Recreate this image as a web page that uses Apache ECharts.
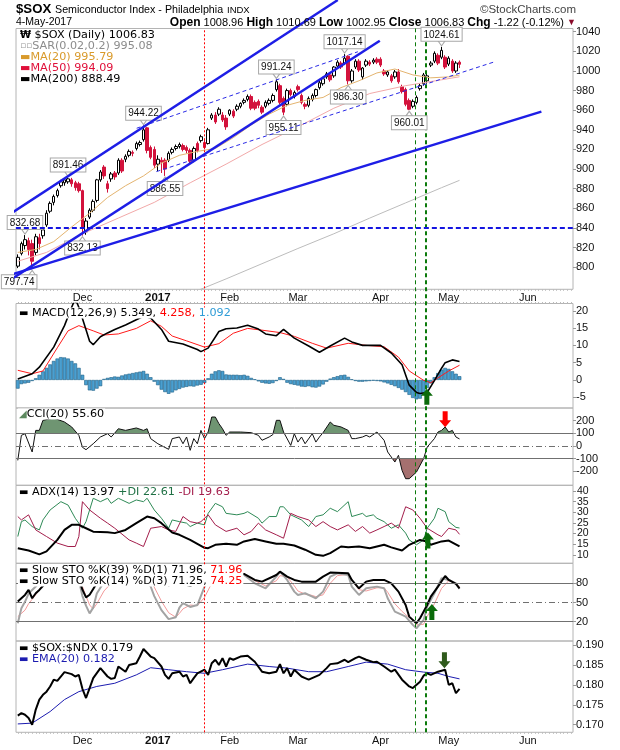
<!DOCTYPE html>
<html><head><meta charset="utf-8">
<script src="https://cdn.jsdelivr.net/npm/echarts@6/dist/echarts.min.js"></script>
<style>html,body{margin:0;padding:0;background:#fff}#c{width:620px;height:750px}</style>
</head><body><div id="c"></div>
<script>
// ---------- DATA (day index d: 0 = 1-Dec-2016, trading days) ----------
const FIRST_DAY = -18; // 4-Nov-2016
const monthStart = [0, 21, 41, 60, 83, 102, 124];
const monthLabels = ['Dec', '2017', 'Feb', 'Mar', 'Apr', 'May', 'Jun'];

const opens = [801,814,822,827,824,815,830,832,843,857,866,873,883,886,887,889,886,885,
 878,836,851,858,868,889,902,885,890,896,896,909,910,914,917,921,925,930,942,922,920,
 905,909,909,909,917,921,923,924,922,919,909,926,929,927,926,952,955,956,955,952,
 956,959,961,964,968,971,974,968,969,963,964,967,970,981,985,972,966,980,974,
 984,975,966,965,971,975,983,987,994,996,995,1005,1008,1008,1015,990,1004,1010,994,1006,1009,1009,1012,
 1012,1000,996,995,994,999,984,981,970,964,968,982,987,990,1006,1010,1016,1014,1014,
 1007,1010,1000,1008.96];
const highs = [813,826,832.68,830,828,834,834,841,858,867,874,880,889,890,891.46,891,888,887,
 879,850,860,869,890,899,904,888,897,898,911,911,915,920,919,928,929,944.22,943,924,923,
 914,912,911,918,922,925,927,926,924,921,923,928,935,931,942,957,958,963,958,955,
 961,961,966,968,972,976,976,970,971,965,970,972,977,991.24,987,974,982,982,980,
 986,977,968,974,977,982,990,994,999,998,1005,1011,1010,1017.14,1016,1002,1012,1012,1004,1012,1011,1013,1014,
 1014,1002,1001,997,1001,1002,986,983,972,971,975,987,998,997,1010,1020,1018,1024.61,1016,
 1015,1012,1010,1010.69];
const lows = [799,812,818,812,797.74,812,818,829,841,855,863,871,881,883,885,882,878,876,
 832.13,833,849,856,866,887,890,876,887,889,894,896,907,912,913,919,923,928,916,910,901,
 898,896,893,907,915,919,921,918,916,906,907,917,927,920,925,950,946,954,948,940,
 954,952,959,962,966,969,960,960,962,956,962,965,968,979,966,955.11,964,974,972,
 979,966,961,963,969,973,981,985,992,989,993,1003,1002,1006,986.30,988,1002,999,991,1004,1005,1007,1007,
 1004,995,994,988,992,987,977,964,960.01,962,966,980,985,987,1004,1008,1006,1012,1002,
 1005,998,998,1002.95];
const closes = [810,824,828,818,806,831,824,838,855,865,872,878,887,889,890,885,881,878,
 840,847,858,867,889,897,893,880,895,892,909,898,913,918,916,926,927,940,919,912,904,
 910,907,900,916,920,923,925,920,919,908,921,919,933,922,940,955,948,961,950,943,
 960,954,964,967,970,974,962,962,965,958,968,970,975,989,968,958,980,976,978,
 981,968,964,972,975,981,988,992,997,991,1004,1009,1004,1013,990,1000,1010,1001,1003,1010,1007,1011,1009,
 1006,997,999,990,999,989,979,966,961,969,973,985,996,995,1008,1018,1008,1021,1004,
 1013,1000,1008.05,1006.83];

const ma20 = [[-18,815],[-13,818],[-8,826],[-3,841],[2,855],[7,871],[12,883],[17,893],[22,906],[27,914],[32,918],[37,921],[42,932],[47,945],[52,956],[57,965],[62,970],[67,973],[72,983],[77,990],[82,998],[87,1002],[92,996],[97,993],[102,994],[105,995.79]];
const ma50 = [[-18,806],[-10,815],[0,834],[10,850],[20,866],[30,886],[40,905],[50,925],[60,943],[70,962],[80,977],[90,985],[100,991],[105,994.09]];
const ma200 = [[30,773],[40,788],[50,803.5],[60,819],[70,834],[80,850],[90,865.5],[100,881],[105,888.49]];

// trend lines drawn on the price panel: [[d1,v1],[d2,v2]]
const solidTrends = [[[-23,847.2],[71.1,1072.3]], [[-23,780.2],[82.8,1030.8]], [[-23,788.8],[127.8,958.5]]];
const dashedTrends = [[[15.1,941.6],[76.7,1019.6]], [[20.6,897.4],[114.8,1009.4]]];
const supportLevel = 840;

// annotated highs/lows: [d, value, text, 'top'|'bottom']
const priceNotes = [[-16,832.68,'832.68','top'],[-14,797.74,'797.74','bottom'],[-4,891.46,'891.46','top'],[0,832.13,'832.13','bottom'],
 [17,944.22,'944.22','top'],[23,893,'886.55','bottom'],[54,991.24,'991.24','top'],[56,955.11,'955.11','bottom'],
 [73,1017.14,'1017.14','top'],[74,986.30,'986.30','bottom'],[91,960.01,'960.01','bottom'],[100,1024.61,'1024.61','top']];

const macdLine = [[-18,0.3],[-14,1.8],[-12,3.7],[-8,9.5],[-5,15.7],[-3,21],[-2,23.5],[-1,21],[1,14.5],[2,11.2],[3,10.2],[5,12.5],[7,13.6],[9,14.6],[12,15.9],[15,17.4],[17,18.4],[19,17.9],[22,14.6],[24,11.2],[28,10.4],[32,8.8],[33,8.2],[35,9.2],[38,14.0],[40,14.8],[43,15.0],[46,15.8],[49,14.7],[51,13.3],[54,12.8],[56,14.6],[59,12.1],[63,9.8],[66,8.0],[69,9.8],[73,12.1],[75,11.0],[78,10.0],[83,10.0],[86,7.8],[89,4.4],[91,-1.5],[93,-3.6],[94,-3.9],[96,-3.6],[98,-0.2],[100,3.4],[101,5.0],[103,5.8],[105,5.349]];
const signalLine = [[-18,2.8],[-14,1.8],[-11,2.6],[-7,9.3],[-4,14.2],[-1,15.7],[3,14.2],[6,13.0],[10,13.3],[15,14.9],[19,17.1],[22,15.5],[25,12.7],[29,11.3],[34,9.5],[38,10.5],[42,13.5],[46,14.9],[50,14.4],[55,13.7],[59,12.6],[64,10.6],[68,9.2],[74,10.6],[79,10.0],[84,9.6],[88,6.6],[91,2.6],[95,-0.1],[97,-0.8],[99,0.6],[102,2.6],[105,4.258]];
const macdHist = [-2.5,-1.2,-1.0,-0.8,-0.3,0.5,1.5,2.5,3.5,4.5,5.5,6.2,6.6,6.5,6.2,5.5,4.8,3.5,
 1.5,-1.5,-3.0,-3.1,-2.5,-1.8,0.3,0.6,0.8,1.0,0.9,1.3,1.6,1.8,2.0,2.2,2.4,2.6,1.8,0.8,-0.5,
 -1.5,-2.8,-3.5,-4.0,-3.6,-3.0,-2.6,-2.2,-2.0,-1.8,-1.9,-1.6,-1.4,-0.9,0.5,1.8,2.5,2.8,2.6,1.6,
 1.5,1.5,1.5,1.4,1.5,1.2,0.6,0.2,-0.4,-0.8,-1.0,-1.1,-0.9,-0.3,0.8,0.3,-0.8,-1.2,-1.4,
 -1.6,-1.9,-2.0,-1.8,-2.1,-2.2,-1.9,-1.3,-0.5,0.4,0.8,1.1,1.4,1.5,0.9,0.2,-0.3,-0.5,-0.5,-0.4,-0.3,-0.2,-0.3,
 -0.4,-0.7,-1.0,-1.4,-1.8,-2.3,-2.8,-3.5,-4.3,-5.2,-5.6,-5.4,-3.8,-2.3,-1.0,0.8,2.0,3.0,3.5,
 3.2,2.5,1.8,1.092];

const cci = [[-18,-113],[-17,84],[-16,97],[-14,-47],[-13,123],[-12,123],[-11,202],[-8,220],[-5,189],[-3,150],[-1,84],[0,-10],[1,-29],[3,18],[5,71],[7,97],[8,71],[9,102],[10,136],[12,123],[15,142],[17,123],[18,136],[19,58],[21,18],[24,-26],[25,58],[27,71],[28,18],[29,71],[30,-34],[31,58],[32,18],[33,123],[34,58],[35,110],[36,228],[37,228],[38,176],[39,136],[40,84],[41,110],[44,110],[47,105],[49,84],[50,45],[52,71],[53,89],[54,202],[55,202],[56,110],[58,5],[59,97],[60,31],[61,71],[62,18],[64,97],[65,31],[66,71],[67,105],[69,189],[70,163],[72,150],[74,123],[75,58],[76,58],[78,71],[79,84],[80,71],[82,110],[84,45],[85,-47],[87,-126],[88,-73],[89,-192],[90,-257],[91,-257],[93,-205],[95,-100],[96,-8],[98,58],[99,110],[100,123],[101,150],[102,110],[103,123],[104,71],[105,55.6]];

const adx = [[-18,13.1],[-15,12.0],[-12,10.2],[-10,11.6],[-7,17.0],[-5,21.7],[-3,24.1],[-1,24.1],[1,22.5],[3,20.9],[7,20.6],[9,20.2],[12,21.7],[15,24.9],[18,28.0],[20,27.2],[22,24.9],[25,20.5],[27,19.4],[30,17.0],[34,13.3],[35,13.1],[37,14.7],[40,15.2],[43,14.7],[45,16.3],[48,17.4],[51,16.3],[54,15.2],[56,15.2],[59,14.4],[62,12.4],[65,10.0],[67,9.5],[69,10.8],[72,13.9],[74,13.5],[77,13.9],[80,13.1],[84,14.7],[86,13.5],[89,12.0],[91,14.7],[94,17.0],[96,16.3],[97,14.7],[100,16.3],[102,16.7],[105,13.97]];
const plusDI = [[-18,18.6],[-17,25.6],[-16,26.4],[-14,23.3],[-12,21.7],[-11,26.4],[-9,31.1],[-6,35.0],[-4,33.4],[-2,27.2],[0,22.5],[1,25.6],[3,36.6],[5,35.0],[7,36.6],[8,34.2],[10,36.6],[13,34.2],[15,35.8],[17,35.0],[18,36.6],[20,31.1],[22,27.2],[24,22.5],[25,26.4],[27,25.6],[29,24.9],[30,23.3],[32,24.9],[34,24.1],[35,29.5],[37,34.2],[39,32.6],[40,29.5],[43,28.8],[45,29.5],[46,30.3],[49,27.2],[50,24.9],[52,28.0],[54,28.0],[55,32.6],[56,32.6],[58,28.8],[60,27.2],[61,26.4],[63,23.3],[65,28.0],[67,28.8],[69,31.9],[71,30.3],[74,35.0],[75,28.0],[78,29.5],[79,28.0],[81,28.8],[82,27.2],[84,25.6],[86,22.5],[88,24.1],[90,20.2],[91,17.0],[93,14.7],[95,17.0],[96,22.5],[98,27.2],[99,31.9],[101,30.3],[102,25.6],[104,22.9],[105,22.61]];
const minusDI = [[-18,28.0],[-17,26.4],[-15,28.8],[-13,21.7],[-10,18.6],[-7,15.5],[-4,13.9],[-2,13.9],[-1,18.6],[0,35.0],[2,31.1],[5,27.2],[7,24.9],[9,22.5],[13,17.0],[15,15.5],[17,13.9],[19,22.5],[22,23.3],[24,21.7],[26,21.0],[28,28.0],[30,25.6],[32,24.9],[33,25.6],[35,28.8],[37,24.1],[40,21.0],[43,22.5],[45,19.4],[47,21.0],[49,24.9],[51,21.7],[54,19.4],[56,17.8],[58,29.5],[60,28.0],[63,26.4],[65,23.3],[67,25.6],[69,23.3],[71,21.7],[74,24.1],[76,21.0],[78,23.3],[80,20.2],[82,21.7],[84,23.3],[86,24.9],[88,22.5],[90,32.6],[92,31.1],[94,27.2],[96,22.5],[99,19.4],[100,18.6],[102,22.5],[104,21.7],[105,19.63]];

const stoK39 = [[-18,51.4],[-16,61.8],[-15,69.6],[-14,56.6],[-13,64.4],[-12,69.6],[-10,82],[-8,92],[-5,97],[-3,95],[-1,88],[0,70],[1,58],[2,62],[4,80],[6,88],[10,92],[14,96],[17,99],[18,93],[20,86],[22,81],[24,77],[27,80],[30,76],[33,83],[35,90.4],[37,93],[42,95.6],[45,94.6],[48,85.2],[50,82.6],[54,93],[55,98.2],[57,90.4],[59,85.2],[61,82.6],[65,82.6],[67,90.4],[69,96.7],[74,95.6],[75,85.2],[77,72.2],[79,82.6],[81,85.2],[84,85.2],[86,80],[88,67],[90,46.1],[91,27.9],[93,17.5],[94,25.3],[96,46.1],[97,59.2],[99,74.8],[101,91.5],[102,85.2],[104,79],[105,71.96]];
const stoK14 = [[-18,17.5],[-17,41],[-16,51],[-15,64],[-13,75],[-11,88],[-8,95],[-5,97],[-3,92],[-1,85],[0,60],[1,45],[2,33],[3,42],[4,64],[6,82],[9,90],[12,95],[15,97],[17,99],[18,86],[19,75],[20,60],[22,38],[24,24],[26,27],[27,42],[28,49],[30,43],[32,46],[34,74.8],[36,90.4],[38,93],[41,98.2],[45,93],[48,80],[51,72.2],[54,90.4],[55,98.2],[57,85.2],[59,67],[60,61.8],[62,64.4],[64,59.2],[65,56.6],[67,67],[69,90.4],[71,95.6],[74,93],[75,74.8],[77,61.8],[79,72.2],[82,74.8],[84,72.2],[85,56.6],[87,35.7],[89,30.5],[90,27.9],[92,15],[93,9.7],[95,22.7],[96,43.5],[98,64.4],[100,87.8],[102,85.2],[104,80],[105,71.25]];
const stoD3 = [[-18,27.9],[-16,38],[-15,48],[-13,62],[-11,78],[-8,92],[-5,96],[-3,94],[-1,88],[0,75],[1,60],[2,46],[3,40],[4,48],[6,68],[9,86],[12,93],[15,96],[17,98],[18,94],[19,86],[20,74],[22,52],[24,34],[26,27],[27,33],[28,40],[30,46],[32,45],[34,58],[36,80],[38,90],[41,96],[45,95],[48,84],[51,76],[54,84],[55,92],[57,90],[59,76],[60,68],[62,63],[64,61],[65,59],[67,62],[69,80],[71,92],[74,94],[75,85],[77,70],[79,68],[82,73],[84,73],[85,66],[87,48],[89,36],[90,31],[92,22],[93,15],[95,16],[96,28],[98,48],[100,72],[102,84],[104,80],[105,74.25]];

const ratio = [[-18,0.1723],[-17,0.1729],[-16,0.1725],[-15,0.1717],[-14,0.1700],[-13,0.1738],[-12,0.1763],[-11,0.1775],[-10,0.1783],[-9,0.1796],[-8,0.1813],[-7,0.1810],[-5,0.1832],[-3,0.1827],[-2,0.1821],[-1,0.1825],[0,0.1790],[1,0.1767],[2,0.1792],[3,0.1817],[5,0.1842],[7,0.1821],[8,0.1815],[9,0.1817],[10,0.1846],[12,0.1833],[13,0.1850],[15,0.1854],[16,0.1871],[17,0.1890],[19,0.1871],[20,0.1867],[22,0.1846],[23,0.1825],[24,0.1815],[25,0.1829],[27,0.1833],[28,0.1821],[29,0.1825],[30,0.1804],[31,0.1817],[32,0.1829],[34,0.1838],[35,0.1825],[36,0.1854],[37,0.1863],[38,0.1850],[39,0.1867],[40,0.1846],[41,0.1867],[42,0.1863],[44,0.1871],[46,0.1873],[48,0.1858],[50,0.1833],[52,0.1829],[54,0.1833],[55,0.1852],[56,0.1829],[57,0.1842],[58,0.1821],[59,0.1838],[61,0.1821],[62,0.1817],[63,0.1813],[66,0.1825],[68,0.1842],[69,0.1852],[71,0.1854],[73,0.1863],[74,0.1857],[76,0.1867],[77,0.1871],[79,0.1863],[81,0.1857],[82,0.1858],[84,0.1846],[86,0.1833],[87,0.1838],[89,0.1813],[91,0.1796],[92,0.1792],[94,0.1808],[95,0.1823],[96,0.1829],[97,0.1825],[99,0.1833],[101,0.1838],[102,0.1800],[103,0.1804],[104,0.1779],[105,0.1790]];
const ema20 = [[-18,0.1702],[-14,0.1704],[-9,0.1733],[-5,0.1763],[-1,0.1783],[4,0.1796],[9,0.1804],[15,0.1825],[19,0.1843],[24,0.1838],[29,0.1833],[34,0.1829],[39,0.1838],[46,0.1852],[52,0.1846],[57,0.1842],[63,0.1833],[68,0.1833],[74,0.1846],[79,0.1857],[85,0.1852],[90,0.1838],[95,0.1832],[99,0.1829],[102,0.1821],[105,0.1815]];

// event markers (day index)
const redEventDay = 34;
const greenEventDays = [92.8, 95.6];
// arrows: [panel, d, value, direction, colour]
const arrows = [[1,95.9,-4.85,'up','#0b6b0b'],[2,101,211,'down','#ff0000'],[3,96.2,16.7,'up','#0b6b0b'],[4,97.3,35.2,'up','#0b6b0b'],[5,100.8,0.1862,'down','#2f5a1c']];

// ---------- CHART ----------
const F = "'Liberation Sans',Arial,sans-serif";
const LF = "'DejaVu Sans',Verdana,sans-serif";
const X_MIN = -18.5, X_MAX = 136.6;
const L = 16, R = 47;
const panels = [
  {top:28.5, height:260.8, min:777.4, max:1043.3, ticks:[800,820,840,860,880,900,920,940,960,980,1000,1020,1040], fmt:v=>String(v), fs:11},
  {top:303.5, height:104.5, min:-8.1, max:22.1, ticks:[-5,0,5,10,15,20], fmt:v=>String(v), fs:11},
  {top:408, height:77.3, min:-309, max:299, ticks:[-200,-100,0,100,200], fmt:v=>String(v), fs:11},
  {top:485.3, height:78, min:6.0, max:42.7, ticks:[10,15,20,25,30,35,40], fmt:v=>String(v), fs:10.5, labelsByMarkLine:true},
  {top:563.3, height:77.7, min:-10.2, max:111.25, ticks:[20,50,80], fmt:v=>String(v), fs:11},
  {top:641, height:91.3, min:0.1681, max:0.1910, ticks:[0.170,0.175,0.180,0.185,0.190], fmt:v=>v.toFixed(3), fs:11}
];
const dayTicks = [];
for (let d = FIRST_DAY; d <= Math.floor(X_MAX); d++) dayTicks.push(d);

const grid = panels.map(p => ({left:L, right:R, top:p.top, height:p.height, show:true, borderColor:'#b4b4b4', borderWidth:1, outerBoundsMode:'none', containLabel:false}));
grid.push({left:L, right:R, top:28.5, height:703.8, show:false, outerBoundsMode:'none', containLabel:false});

const monthLabelCfg = {show:true, customValues:monthStart, showMinLabel:true, showMaxLabel:true, hideOverlap:false, fontFamily:F, fontSize:11, color:'#111', margin:3,
  formatter: v => { const i = monthStart.indexOf(v); const s = i >= 0 ? monthLabels[i] : ''; return s === '2017' ? '{b|2017}' : s; },
  rich:{b:{fontWeight:'bold', fontFamily:F, fontSize:11.5, color:'#111'}}};
const dayTickCfg = {show:true, customValues:dayTicks, length:1.5, inside:false, lineStyle:{color:'#bbbbbb', width:1}};
const xAxis = grid.map((g, i) => ({type:'value', gridIndex:i, min:X_MIN, max:X_MAX,
  position: i === 1 ? 'top' : 'bottom',
  axisLine:{show:false, onZero:false}, splitLine:{show:false},
  axisTick: (i === 0 || i === 1 || i === 5) ? dayTickCfg : {show:false},
  axisLabel: (i === 0 || i === 5) ? monthLabelCfg : {show:false}}));
const yAxis = panels.map((p, i) => ({type:'value', gridIndex:i, position:'right', min:p.min, max:p.max,
  axisLine:{show:false, onZero:false}, splitLine:{show:false},
  axisTick:{show:true, customValues:p.ticks, length:3, lineStyle:{color:'#999'}},
  axisLabel: p.labelsByMarkLine ? {show:false} : {show:true, customValues:p.ticks, showMinLabel:true, showMaxLabel:true, hideOverlap:false, formatter:p.fmt,
    fontFamily:F, fontSize:p.fs, color:'#111', margin:3}}));
yAxis.push({type:'value', gridIndex:6, min:0, max:1, show:false, axisLine:{onZero:false}});

const series = [];
const line = (gi, data, color, width, extra) => Object.assign({type:'line', xAxisIndex:gi, yAxisIndex:gi, data, showSymbol:false, symbol:'none', silent:true,
  lineStyle:{color, width}, emphasis:{disabled:true}}, extra || {});

// main panel
series.push(line(0, ma200, '#bcbcbc', 1));
series.push(line(0, ma50, '#f2a9a9', 1));
series.push(line(0, ma20, '#e4b46f', 1));
series.push({type:'candlestick', xAxisIndex:0, yAxisIndex:0, silent:true, barWidth:3,
  encode:{x:0, y:[1,2,3,4]},
  data: opens.map((o, i) => [i + FIRST_DAY, o, closes[i], lows[i], highs[i]]),
  itemStyle:{color:'#ffffff', color0:'#d3123c', borderColor:'#000000', borderColor0:'#d3123c', borderWidth:1}});
solidTrends.forEach(t => series.push(line(0, t, '#1e1ee6', 2.5, {clip:false, z:5})));
dashedTrends.forEach(t => series.push(line(0, t, '#2a2ae6', 1, {clip:false, z:5, lineStyle:{color:'#2a2ae6', width:1, type:[4,3]}})));
series.push(line(0, [[-23, supportLevel],[X_MAX, supportLevel]], '#1414e0', 2, {clip:false, z:5, lineStyle:{color:'#1414e0', width:2, type:[5,3]}}));
const PTR_DOWN = 'path://M0,0 L8,0 L4,5 Z';
const PTR_UP = 'path://M4,0 L8,5 L0,5 Z';
series.push({type:'line', xAxisIndex:0, yAxisIndex:0, data:[], silent:true, z:8,
  markPoint:{silent:true, animation:false, symbolKeepAspect:false,
    data: priceNotes.map(n => ({coord:[n[0], n[1]], symbol: n[3] === 'top' ? PTR_DOWN : PTR_UP, symbolSize:[7,5],
      symbolOffset:[0, n[3] === 'top' ? -3.5 : 3.5], itemStyle:{color:'#ffffff', borderColor:'#a8a8a8', borderWidth:1}, label:{show:false}}))}});
series.push({type:'line', xAxisIndex:0, yAxisIndex:0, data:[], silent:true, z:9,
  markPoint:{symbol:'circle', symbolSize:0, silent:true, animation:false,
    label:{show:true, formatter:'{b}', backgroundColor:'#ffffff', borderColor:'#a8a8a8', borderWidth:1, padding:[2,2,1,2], fontFamily:F, fontSize:10, color:'#111'},
    data: priceNotes.map(n => ({name:n[2], coord:[n[0], n[1]],
      label:{position:n[3], distance:6, offset: n[2] === '797.74' ? [-13, 0] : [0, 0]}}))}});

// MACD
series.push({type:'bar', xAxisIndex:1, yAxisIndex:1, silent:true, barWidth:3.6,
  data: macdHist.map((v, i) => [i + FIRST_DAY, v]),
  itemStyle:{color:'#4a9fd0', borderColor:'#1c5f86', borderWidth:0.6}});
series.push(line(1, signalLine, '#ff1a1a', 1));
series.push(line(1, macdLine, '#000000', 1.6));

// CCI
const cciUp = series.length;
series.push(line(2, cci, '#000', 0, {lineStyle:{opacity:0, width:0}, areaStyle:{origin:100, opacity:1}}));
const cciDn = series.length;
series.push(line(2, cci, '#000', 0, {lineStyle:{opacity:0, width:0}, areaStyle:{origin:-100, opacity:1}}));
series.push(line(2, cci, '#111', 1, {markLine:{silent:true, symbol:['none','none'], label:{show:false}, animation:false,
  lineStyle:{color:'#707070', width:1, type:'solid'},
  data:[{yAxis:100},{yAxis:-100},{yAxis:0, lineStyle:{color:'#707070', width:1, type:[6,3,1,3]}}]}}));

// ADX (tick labels placed through the axis scale at the right end of invisible level lines)
series.push(line(3, plusDI, '#2e8a56', 1));
series.push(line(3, minusDI, '#a31d4b', 1));
series.push(line(3, adx, '#000', 2, {markLine:{silent:true, symbol:['none','none'], animation:false,
  lineStyle:{color:'rgba(255,255,255,0)', width:1, type:'solid'},
  label:{show:true, position:'end', distance:4, formatter:p => panels[3].fmt(p.value), fontFamily:F, fontSize:10.5, color:'#111', opacity:1},
  emphasis:{disabled:true},
  data: panels[3].ticks.map(v => ({yAxis:v}))}}));

// Slow stochastics
series.push(line(4, stoD3, '#f39a9a', 1));
series.push(line(4, stoK14, '#a3a3a3', 2));
series.push(line(4, stoK39, '#000', 2, {markLine:{silent:true, symbol:['none','none'], label:{show:false}, animation:false,
  lineStyle:{color:'#707070', width:1, type:'solid'},
  data:[{yAxis:80},{yAxis:20},{yAxis:50, lineStyle:{color:'#707070', width:1, type:[6,3,1,3]}}]}}));

// ratio
series.push(line(5, ema20, '#1c1cb0', 1));
series.push(line(5, ratio, '#000', 2));

// arrows
const UP = 'path://M6,0 L12,7 L8.5,7 L8.5,16 L3.5,16 L3.5,7 L0,7 Z';
const DOWN = 'path://M3.5,0 L8.5,0 L8.5,9 L12,9 L6,16 L0,9 L3.5,9 Z';
arrows.forEach(a => series.push({type:'line', xAxisIndex:a[0], yAxisIndex:a[0], data:[], silent:true, z:9,
  markPoint:{silent:true, animation:false, symbolKeepAspect:false,
    data:[{coord:[a[1], a[2]], symbol: a[3] === 'up' ? UP : DOWN, symbolSize:[12,16], itemStyle:{color:a[4]}, label:{show:false}}]}}));

// event lines across all panels
series.push({type:'line', xAxisIndex:6, yAxisIndex:6, data:[], silent:true, z:7,
  markLine:{silent:true, symbol:['none','none'], label:{show:false}, animation:false,
    data:[{xAxis:redEventDay, lineStyle:{color:'#ff0000', width:1, type:[2,2]}},
          {xAxis:greenEventDays[0], lineStyle:{color:'#0b7a0b', width:1, type:[4,3]}},
          {xAxis:greenEventDays[1], lineStyle:{color:'#0b7a0b', width:2, type:[4,3]}}]}});

// ---------- TEXT ----------
const txt = (x, y, text, rich, extra) => ({type:'text', x, y, z:100, silent:true,
  style: Object.assign({text, fontFamily:F, fontSize:11.5, fill:'#000', align:'left', verticalAlign:'middle', textAlign:'left', textVerticalAlign:'middle', rich: rich || {}}, extra || {})});
const rs = (color, size, weight, fam) => ({fill:color, color, fontFamily:fam || LF, fontSize:size || 11.2, fontWeight:weight || 'normal'});
const leg = (extra) => Object.assign({fontFamily:LF, fontSize:11.2, backgroundColor:'#ffffff', padding:[0,1]}, extra || {});

const graphic = [
  txt(16, 9.5, '$SOX', {}, {fontSize:13.2, fontWeight:'bold'}),
  txt(55, 10, 'Semiconductor Index - Philadelphia', {}, {fontSize:10.7}),
  txt(227, 10.5, 'INDX', {}, {fontSize:9.5}),
  txt(576, 9.5, '©StockCharts.com', {}, {fontSize:11.5, fill:'#444', align:'right', textAlign:'right'}),
  txt(16, 22.5, '4-May-2017', {}, {fontSize:10.5}),
  txt(576, 22.5, '{b|Open} 1008.96 {b|High} 1010.69 {b|Low} 1002.95 {b|Close} 1006.83 {b|Chg} -1.22 (-0.12%) {r|▼}',
      {b:rs('#000',12,'bold',F), r:rs('#8a0a2a',9,'normal',F)}, {fontSize:11, align:'right', textAlign:'right'}),
  // price legend
  txt(19, 35, '{i|₩} $SOX (Daily) 1006.83', {i:rs('#000',10,'bold')}, leg()),
  txt(19, 46, '{i|▫▫}SAR(0.02,0.2) 995.08', {i:rs('#999',9)}, leg({fill:'#8c8c8c'})),
  txt(19, 57.3, '{i|▬}MA(20) 995.79', {i:rs('#d99a2b',11,'bold')}, leg({fill:'#d99a2b'})),
  txt(19, 68.3, '{i|▬}MA(50) 994.09', {i:rs('#e0103a',11,'bold')}, leg({fill:'#e0103a'})),
  txt(19, 79.5, '{i|▬}MA(200) 888.49', {i:rs('#000',11,'bold')}, leg()),
  // MACD
  txt(18, 313, '{i|▬} MACD(12,26,9) 5.349, {r|4.258,} {c|1.092}', {i:rs('#000',10,'bold'), r:rs('#ff0000'), c:rs('#2e9bd6')}, leg()),
  // CCI
  txt(18, 414, '{i|◢}CCI(20) 55.60', {i:rs('#5e8a60',10,'bold')}, leg()),
  // ADX
  txt(18, 492, '{i|▬} ADX(14) 13.97 {g|+DI 22.61} {m|-DI 19.63}', {i:rs('#000',10,'bold'), g:rs('#1f7044'), m:rs('#a31d4b')}, leg()),
  // STO
  txt(18, 570.5, '{i|▬} Slow STO %K(39) %D(1) 71.96, {r|71.96}', {i:rs('#000',10,'bold'), r:rs('#ff0000')}, leg()),
  txt(18, 581, '{i|▬} Slow STO %K(14) %D(3) 71.25, {r|74.25}', {i:rs('#000',10,'bold'), r:rs('#ff0000')}, leg()),
  // ratio
  txt(18, 648, '{i|▬} $SOX:$NDX 0.179', {i:rs('#000',10,'bold')}, leg()),
  txt(18, 659.3, '{i|▬} EMA(20) 0.182', {i:rs('#1c1cb0',10,'bold')}, leg({fill:'#1c1cb0'}))
];

const option = {
  animation:false,
  backgroundColor:'#ffffff',
  grid, xAxis, yAxis, series, graphic,
  visualMap:[
    {type:'piecewise', show:false, seriesIndex:cciUp, dimension:1,
     pieces:[{gte:-1000, lte:100, color:'rgba(255,255,255,0)'},{gt:100, lte:1000, color:'#6f9572'}]},
    {type:'piecewise', show:false, seriesIndex:cciDn, dimension:1,
     pieces:[{gte:-1000, lt:-100, color:'#a5706f'},{gte:-100, lte:1000, color:'rgba(255,255,255,0)'}]}
  ]
};
const chart = echarts.init(document.getElementById('c'), null, {renderer:'canvas', width:620, height:750});
chart.setOption(option);
</script>
</body></html>
